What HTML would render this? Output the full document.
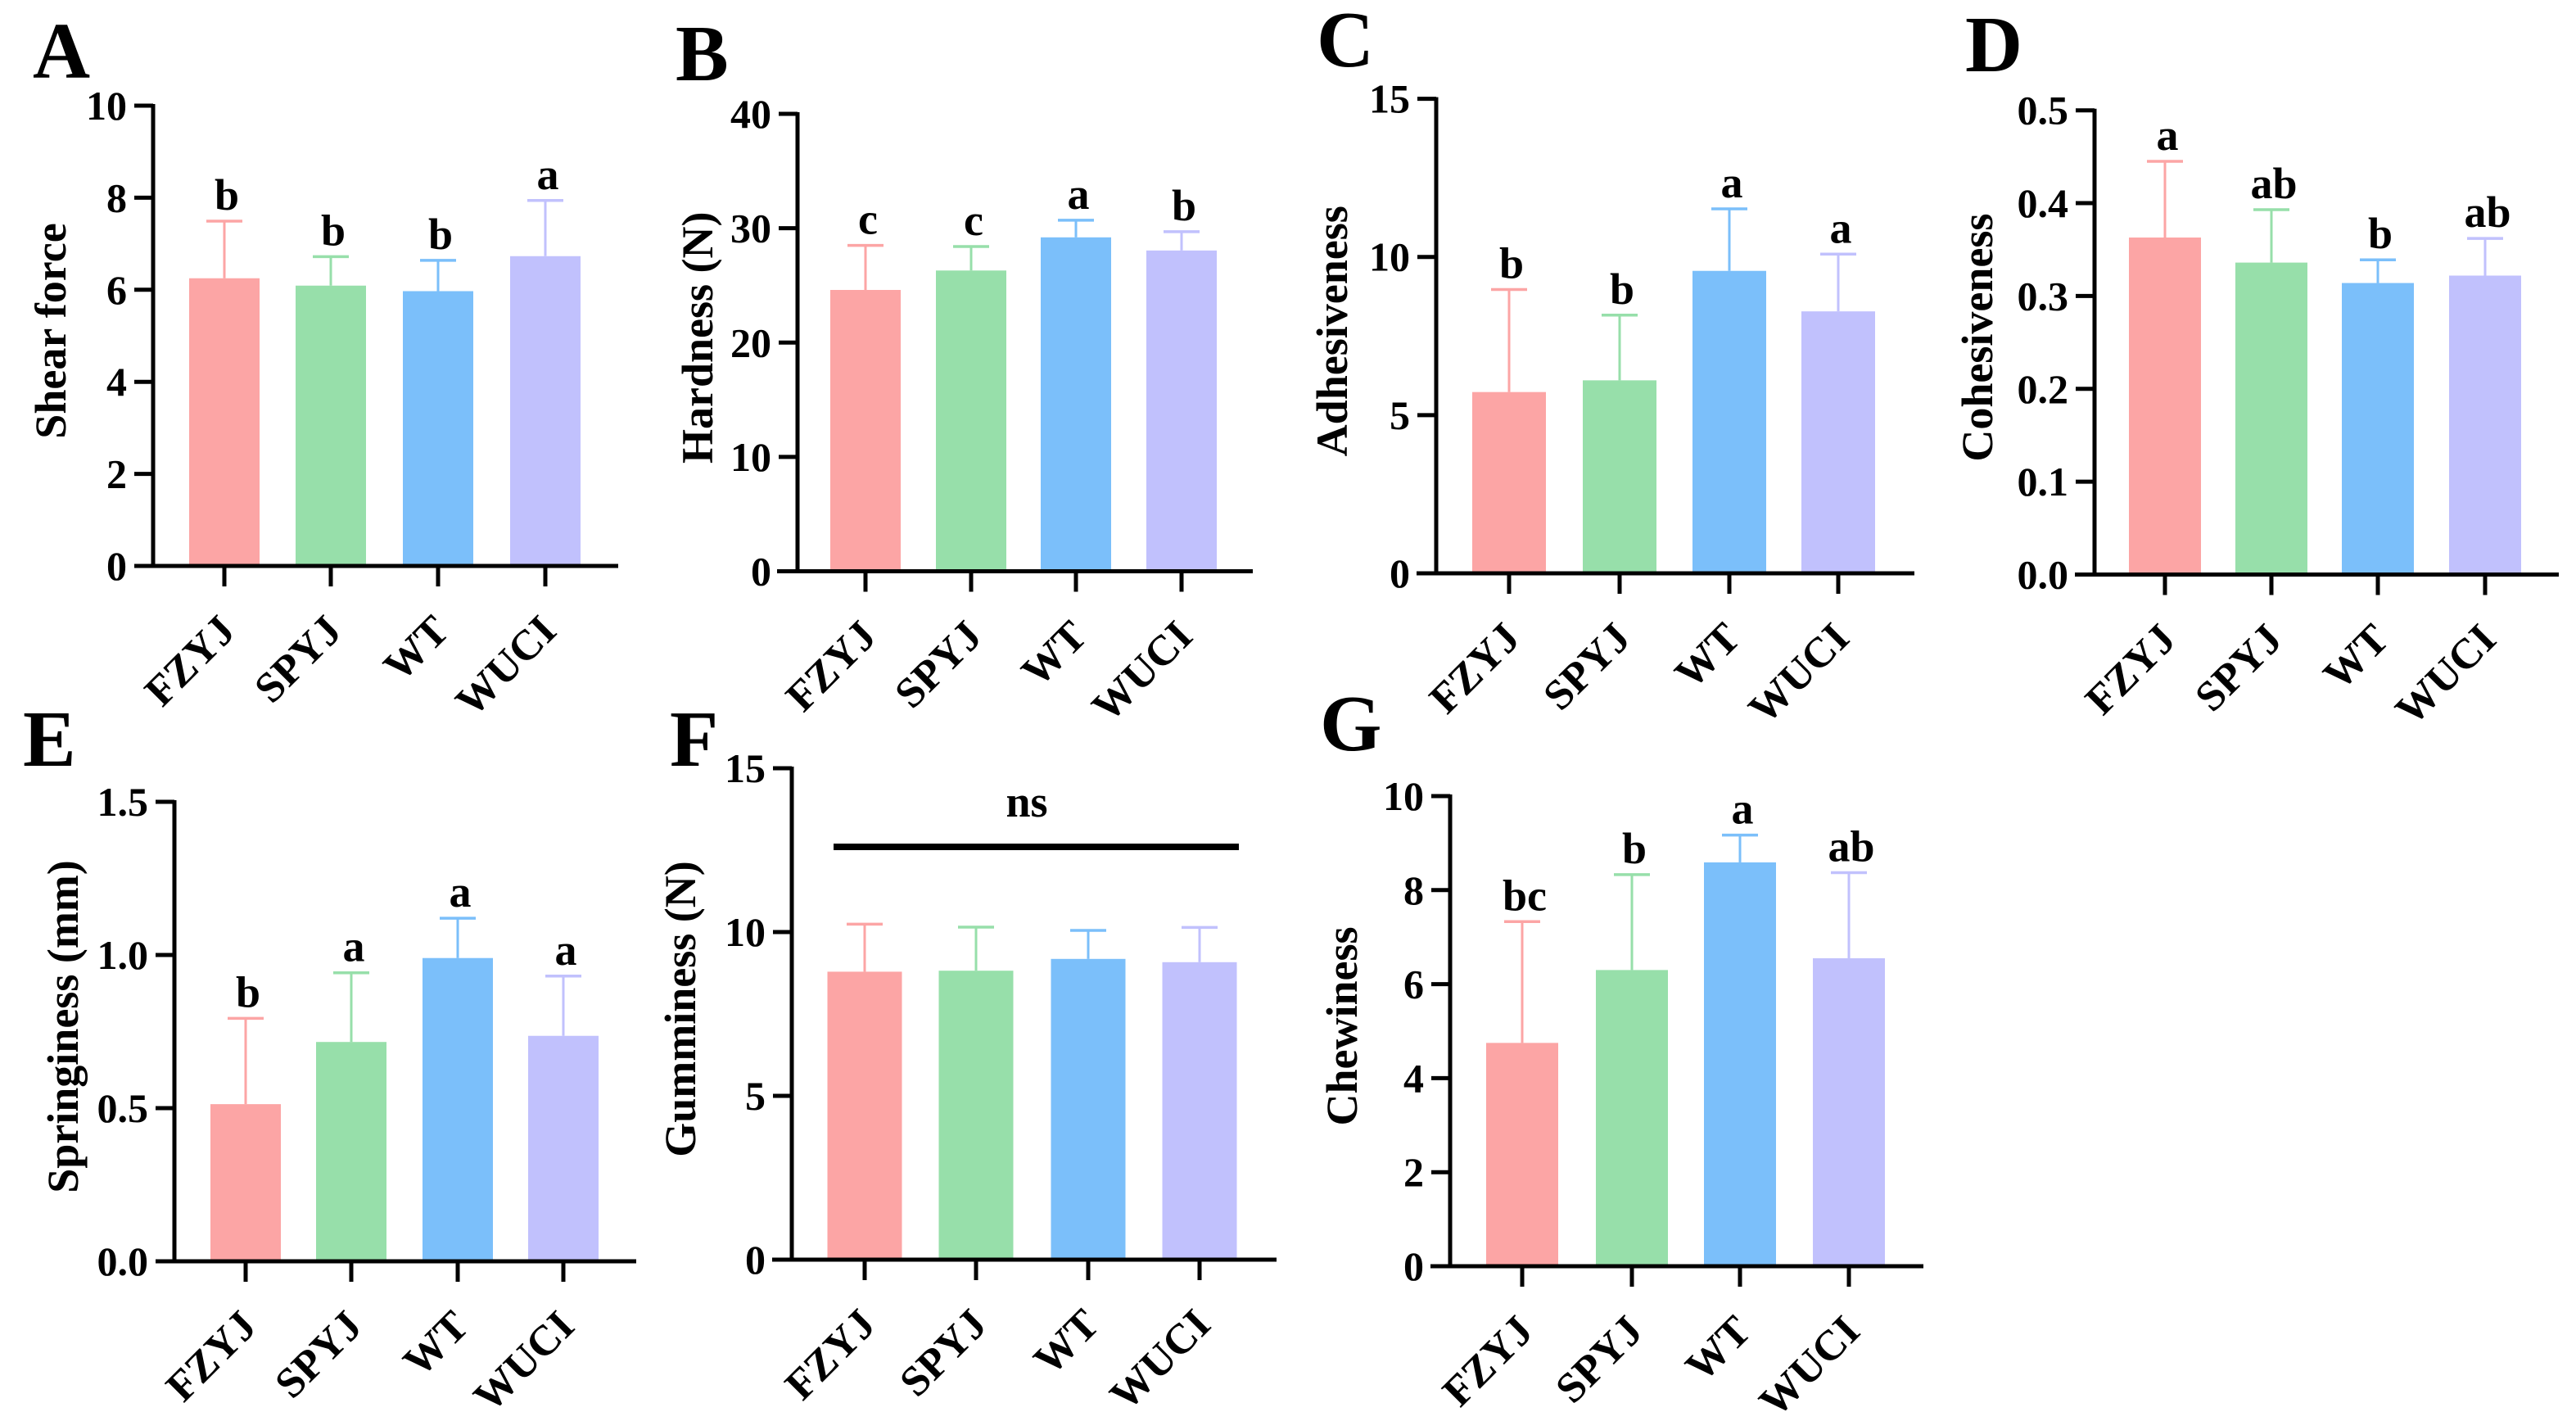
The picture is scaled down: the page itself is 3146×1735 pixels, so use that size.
<!DOCTYPE html>
<html><head><meta charset="utf-8"><style>
html,body{margin:0;padding:0;background:#fff;}
svg{display:block;}
svg text{font-family:"Liberation Serif","DejaVu Serif",serif;font-weight:bold;fill:#000;}
</style></head><body>
<svg id="fig" width="3146" height="1735" viewBox="0 0 3146 1735" xmlns="http://www.w3.org/2000/svg" font-family="Liberation Serif, DejaVu Serif, serif" font-weight="bold"></svg>
<script>
const categories = ["FZYJ","SPYJ","WT","WUCI"];
const barColors = ["#FCA5A5","#97DFAA","#7BBFFA","#C1C1FD"];

const shearMeans = [6.25, 6.09, 5.97, 6.73];
const shearErrs  = [1.24, 0.63, 0.67, 1.21];
const shearLetters = ["b","b","b","a"];
const shearTicks = [0,2,4,6,8,10];

const hardMeans = [24.6, 26.3, 29.2, 28.05];
const hardErrs  = [3.9, 2.1, 1.5, 1.65];
const hardLetters = ["c","c","a","b"];
const hardTicks = [0,10,20,30,40];

const adhMeans = [5.73, 6.10, 9.56, 8.28];
const adhErrs  = [3.24, 2.06, 1.96, 1.81];
const adhLetters = ["b","b","a","a"];
const adhTicks = [0,5,10,15];

const cohMeans = [0.363, 0.336, 0.314, 0.322];
const cohErrs  = [0.082, 0.057, 0.025, 0.040];
const cohLetters = ["a","ab","b","ab"];
const cohTicks = ["0.0","0.1","0.2","0.3","0.4","0.5"];

const sprMeans = [0.513, 0.716, 0.990, 0.736];
const sprErrs  = [0.280, 0.226, 0.130, 0.195];
const sprLetters = ["b","a","a","a"];
const sprTicks = ["0.0","0.5","1.0","1.5"];

const gumMeans = [8.79, 8.82, 9.18, 9.08];
const gumErrs  = [1.45, 1.33, 0.87, 1.06];
const gumTicks = [0,5,10,15];

const chewMeans = [4.75, 6.30, 8.59, 6.55];
const chewErrs  = [2.58, 2.03, 0.58, 1.82];
const chewLetters = ["bc","b","a","ab"];
const chewTicks = [0,2,4,6,8,10];

const panels = [
 {id:"a",label:"A",lx:40,ly:95,title:"Shear force",tx:62,ax:187,y0:691,yTop:129,xs:164,xe:755,ticksX:[274,404,535,666],bw:86,max:10,ticks:shearTicks,means:shearMeans,errs:shearErrs,letters:shearLetters},
 {id:"b",label:"B",lx:825,ly:98,title:"Hardness (N)",tx:852,ax:974,y0:697.5,yTop:139,xs:949,xe:1530,ticksX:[1057,1186,1314,1443],bw:86,max:40,ticks:hardTicks,means:hardMeans,errs:hardErrs,letters:hardLetters},
 {id:"c",label:"C",lx:1608,ly:81,title:"Adhesiveness",tx:1627,ax:1754,y0:700,yTop:120.6,xs:1730,xe:2338,ticksX:[1843,1978,2112,2245],bw:90,max:15,ticks:adhTicks,means:adhMeans,errs:adhErrs,letters:adhLetters},
 {id:"d",label:"D",lx:2400,ly:87,title:"Cohesiveness",tx:2415,ax:2558,y0:701.5,yTop:134.7,xs:2534,xe:3125,ticksX:[2644,2774,2904,3035],bw:88,max:0.5,ticks:cohTicks,means:cohMeans,errs:cohErrs,letters:cohLetters},
 {id:"e",label:"E",lx:28,ly:935,title:"Springiness (mm)",tx:77,ax:213,y0:1540,yTop:979,xs:192,xe:777,ticksX:[300,429,559,688],bw:86,max:1.5,ticks:sprTicks,means:sprMeans,errs:sprErrs,letters:sprLetters},
 {id:"f",label:"F",lx:818,ly:935,title:"Gumminess (N)",tx:831,ax:967,y0:1538,yTop:938,xs:943,xe:1559,ticksX:[1056,1192,1329,1465],bw:91,max:15,ticks:gumTicks,means:gumMeans,errs:gumErrs,letters:null},
 {id:"g",label:"G",lx:1612,ly:916,title:"Chewiness",tx:1639,ax:1771,y0:1546,yTop:972,xs:1747,xe:2349,ticksX:[1859,1993,2125,2258],bw:88,max:10,ticks:chewTicks,means:chewMeans,errs:chewErrs,letters:chewLetters}
];

const NS="http://www.w3.org/2000/svg";
const svg=document.getElementById("fig");
const FONT="'Liberation Serif', 'DejaVu Serif', serif";
function mk(tag,attrs,parent){const e=document.createElementNS(NS,tag);for(const k in attrs)e.setAttribute(k,attrs[k]);if(tag==="text"){e.setAttribute("font-family",FONT);e.setAttribute("font-weight","bold");}(parent||svg).appendChild(e);return e;}

panels.forEach(p=>{
  const g=mk("g",{});
  
  
  const yScale=v=>p.y0-(parseFloat(v)/p.max)*(p.y0-p.yTop);
  const lab=mk("text",{x:p.lx,y:p.ly,"font-size":97},g);lab.textContent=p.label;
  
  
  p.means.forEach((m,i)=>{
    const cx=p.ticksX[i];
    const top=yScale(m), et=yScale(m+p.errs[i]);
    const eb=mk("line",{x1:cx,x2:cx,y1:top,y2:et,stroke:barColors[i],"stroke-width":3},g);
    
    
    const cap=mk("line",{x1:cx-22,x2:cx+22,y1:et,y2:et,stroke:barColors[i],"stroke-width":3.5},g);
    
    
    const r=mk("rect",{x:cx-p.bw/2,y:top,width:p.bw,height:p.y0-top,fill:barColors[i]},g);
    
    
    if(p.letters){
      const t=mk("text",{x:cx+3,y:et-14,"font-size":54,"text-anchor":"middle"},g);t.textContent=p.letters[i];
      
      
    }
    const tk=mk("line",{x1:cx,x2:cx,y1:p.y0,y2:p.y0+25,stroke:"#000","stroke-width":5},g);
    
    
    const cl=mk("text",{x:0,y:0,"font-size":52,"text-anchor":"end",transform:`translate(${cx+16},${p.y0+82}) rotate(-45)`},g);cl.textContent=categories[i];
    
    
  });
  const ya=mk("line",{x1:p.ax,x2:p.ax,y1:p.yTop-2,y2:p.y0+2.5,stroke:"#000","stroke-width":5},g);
  
  
  const xa=mk("line",{x1:p.xs,x2:p.xe,y1:p.y0,y2:p.y0,stroke:"#000","stroke-width":5},g);
  
  
  p.ticks.forEach(v=>{
    const y=yScale(v);
    const t=mk("line",{x1:p.ax-23,x2:p.ax,y1:y,y2:y,stroke:"#000","stroke-width":5},g);
    
    
    const tl=mk("text",{x:p.ax-32,y:y+17,"font-size":50,"text-anchor":"end"},g);tl.textContent=v;
    
    
  });
  const mid=(p.y0+p.yTop)/2-6;
  const yt=mk("text",{x:0,y:0,"font-size":54,"text-anchor":"middle",transform:`translate(${p.tx+18},${mid}) rotate(-90)`},g);yt.textContent=p.title;
  
  
});

const nsLine=mk("line",{x1:1018,x2:1513,y1:1034,y2:1034,stroke:"#000","stroke-width":8});


const nsText=mk("text",{x:1254,y:997,"font-size":54,"text-anchor":"middle"});nsText.textContent="ns";


</script>
</body></html>
